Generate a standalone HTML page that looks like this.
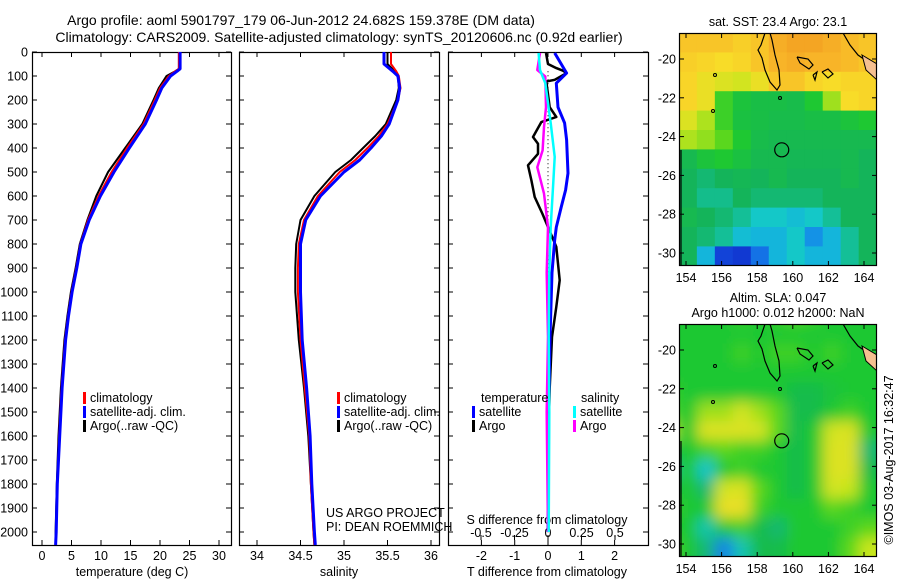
<!DOCTYPE html>
<html><head><meta charset="utf-8">
<style>
html,body{margin:0;padding:0;background:#fff;}
svg{display:block;font-family:"Liberation Sans",Arial,sans-serif;}
</style></head>
<body>
<svg id="fig" width="900" height="580" viewBox="0 0 900 580" xmlns="http://www.w3.org/2000/svg">
<defs>
<clipPath id="clipSST"><rect x="679" y="33" width="198" height="233"/></clipPath>
<clipPath id="clipSLA"><rect x="679" y="324" width="198" height="232"/></clipPath>
<filter id="blur" x="-10%" y="-10%" width="120%" height="120%"><feGaussianBlur stdDeviation="7"/></filter>
</defs>
<text x="301" y="25" font-size="14" text-anchor="middle">Argo profile: aoml 5901797_179 06-Jun-2012 24.682S 159.378E (DM data)</text>
<text x="339" y="42" font-size="14" text-anchor="middle">Climatology: CARS2009. Satellite-adjusted climatology: synTS_20120606.nc (0.92d earlier)</text>
<g id="g"></g>
</svg>
<script>
// ---- Temperature profile data ----
const tDepth = [0,70,80,100,150,200,300,400,500,600,700,800,900,1000,1100,1200,1400,1600,1800,2000,2054];
const tClim  = [23.2,23.2,22.6,21.5,20,19.1,17.2,14.4,11.8,9.6,7.8,6.5,5.8,5.0,4.4,3.9,3.3,2.9,2.6,2.4,2.3];
const tSat   = [23.4,23.4,22.9,21.8,20.3,19.4,17.5,14.8,12.2,9.9,8.0,6.6,5.9,5.1,4.5,4.0,3.4,3.0,2.6,2.4,2.3];
const tArgo  = [23.2,23.2,22.6,21.1,19.8,18.9,17.0,14.1,11.2,9.2,7.7,6.4,5.7,4.9,4.3,3.8,3.2,2.8,2.5,2.3,2.3];
// ---- Salinity profile data ----
const sDepth = [0,50,80,100,150,200,300,350,400,450,500,600,700,800,900,1000,1200,1400,1600,1800,2000,2054];
const sClim  = [35.54,35.54,35.6,35.63,35.65,35.62,35.5,35.4,35.27,35.13,34.95,34.7,34.54,34.48,34.47,34.47,34.5,34.55,34.6,34.62,34.65,34.66];
const sSat   = [35.46,35.46,35.56,35.62,35.64,35.62,35.52,35.43,35.31,35.18,35.0,34.73,34.56,34.5,34.5,34.5,34.52,34.57,34.61,34.63,34.66,34.67];
const sArgo  = [35.5,35.5,35.58,35.62,35.63,35.6,35.48,35.36,35.22,35.08,34.9,34.66,34.5,34.45,34.44,34.44,34.48,34.54,34.59,34.62,34.65,34.66];
// ---- Difference data ----
const dTSatDepth = [4,88,130,230,296,366,505,575,645,730,783,920,1187,1500,2000];
const dTSat      = [0.2,0.56,0.25,0.3,0.5,0.56,0.6,0.53,0.4,0.25,0.2,0.12,0.06,0.02,0.0];
const dTArgoDepth = [4,50,67,78,88,116,123,230,271,292,354,382,424,472,535,604,673,729,812,951,1062,1187,1400,1700,2000];
const dTArgo      = [-0.06,0,0.25,0.45,0.56,0.2,-0.05,0.05,0.25,-0.2,-0.45,-0.3,-0.3,-0.6,-0.5,-0.4,-0.17,0,0.25,0.35,0.25,0.12,0.05,0.0,0.0];
const dSArgoDepth = [4,75,102,230,313,410,480,590,729,920,1187,1500,2000];
const dSArgo      = [-0.06,-0.08,-0.02,-0.015,-0.03,-0.04,-0.08,-0.03,0,-0.01,0,-0.01,0];
const dSSatDepth = [4,75,130,296,437,535,729,920,1187,1500,2000];
const dSSat      = [-0.07,-0.06,-0.02,0.02,0.05,0.04,0.02,0.01,0.005,0.01,0.005];
// ---- Tick labels ----
const depthTicks = [0,100,200,300,400,500,600,700,800,900,1000,1100,1200,1300,1400,1500,1600,1700,1800,1900,2000];
const tempTicks = [0,5,10,15,20,25,30];
const salTicks = [34,34.5,35,35.5,36];
const salTickLabels = ["34","34.5","35","35.5","36"];
const dTTicks = [-2,-1,0,1,2];
const dSTicks = [-0.5,-0.25,0,0.25,0.5];
const dSTickLabels = ["-0.5","-0.25","0","0.25","0.5"];
const latTicks = [-20,-22,-24,-26,-28,-30];
const lonTicks = [154,156,158,160,162,164];
// ---- Map grids (colour index 0..1), rows lat -19..-30, cols lon 154..164 ----
const sstGrid = [
[0.85,0.85,0.85,0.82,0.85,0.92,0.95,0.95,0.92,0.88,0.85],
[0.82,0.8,0.78,0.8,0.85,0.9,0.92,0.9,0.9,0.88,0.85],
[0.8,0.75,0.72,0.7,0.75,0.85,0.85,0.8,0.78,0.8,0.8],
[0.8,0.75,0.55,0.48,0.46,0.46,0.45,0.5,0.65,0.78,0.8],
[0.72,0.66,0.55,0.47,0.46,0.45,0.45,0.46,0.46,0.48,0.5],
[0.66,0.64,0.6,0.5,0.45,0.44,0.44,0.44,0.44,0.44,0.44],
[0.44,0.48,0.5,0.47,0.44,0.44,0.43,0.43,0.43,0.44,0.42],
[0.42,0.4,0.42,0.43,0.42,0.44,0.42,0.42,0.42,0.44,0.42],
[0.42,0.38,0.38,0.42,0.4,0.4,0.4,0.4,0.42,0.42,0.42],
[0.44,0.42,0.4,0.37,0.33,0.33,0.3,0.33,0.37,0.42,0.42],
[0.42,0.4,0.37,0.3,0.28,0.28,0.33,0.22,0.28,0.37,0.42],
[0.42,0.28,0.08,0.05,0.18,0.28,0.33,0.28,0.28,0.37,0.42]];
const slaGrid = [
[0.5,0.5,0.5,0.55,0.5,0.55,0.6,0.55,0.5,0.5,0.5],
[0.5,0.5,0.5,0.55,0.5,0.55,0.55,0.5,0.55,0.5,0.5],
[0.5,0.5,0.5,0.5,0.5,0.5,0.5,0.5,0.5,0.5,0.5],
[0.55,0.5,0.5,0.5,0.5,0.5,0.45,0.45,0.48,0.5,0.5],
[0.6,0.65,0.65,0.7,0.65,0.6,0.45,0.45,0.5,0.55,0.5],
[0.68,0.72,0.72,0.72,0.7,0.6,0.45,0.5,0.7,0.72,0.5],
[0.45,0.55,0.6,0.55,0.55,0.5,0.45,0.5,0.72,0.72,0.4],
[0.35,0.32,0.5,0.55,0.5,0.5,0.45,0.5,0.72,0.72,0.45],
[0.45,0.4,0.7,0.72,0.6,0.5,0.45,0.5,0.7,0.68,0.5],
[0.55,0.5,0.75,0.75,0.55,0.5,0.5,0.5,0.6,0.55,0.5],
[0.5,0.35,0.5,0.55,0.45,0.4,0.5,0.5,0.5,0.55,0.6],
[0.6,0.4,0.2,0.35,0.45,0.45,0.5,0.5,0.5,0.6,0.68]];

const NS="http://www.w3.org/2000/svg";
const G=document.getElementById('g');
function mk(tag,attrs,parent){const e=document.createElementNS(NS,tag);for(const k in attrs)e.setAttribute(k,attrs[k]);(parent||G).appendChild(e);return e;}
function txt(x,y,s,size,anchor,parent){const e=mk('text',{x:x,y:y,'font-size':size,'text-anchor':anchor||'start'},parent);e.textContent=s;return e;}

const TOP=52, BOT=545;
const yD=d=>TOP+d*0.24;
const xT=t=>42+t*5.9;
const xS=s=>257+(s-34)*87;
const xDT=v=>548+v*33.3;
const xDS=v=>548+v*134;

function frame(x0,x1,name){
  const r=mk('rect',{x:x0+0.5,y:TOP+0.5,width:x1-x0,height:BOT-TOP,fill:'none',stroke:'#000','stroke-width':1.2});
  
  
  depthTicks.forEach(d=>{
    mk('line',{x1:x0,x2:x0+5,y1:yD(d),y2:yD(d),stroke:'#000'});
    mk('line',{x1:x1-5,x2:x1,y1:yD(d),y2:yD(d),stroke:'#000'});
  });
}
frame(32,231,'temperature-panel');
frame(239,439,'salinity-panel');
frame(448,648,'difference-panel');

depthTicks.forEach(d=>{
  const t=txt(28,yD(d)+4.5,String(d),12.5,'end');
  
  
});

function xticks(vals,labels,fx,labelY){
  vals.forEach((v,i)=>{
    const x=fx(v);
    mk('line',{x1:x,x2:x,y1:TOP,y2:TOP+5,stroke:'#000'});
    mk('line',{x1:x,x2:x,y1:BOT-5,y2:BOT,stroke:'#000'});
    const t=txt(x,labelY,labels[i],12.5,'middle');
    
    
  });
}
xticks(tempTicks,tempTicks.map(String),xT,560);
xticks(salTicks,salTickLabels,xS,560);
xticks(dTTicks,dTTicks.map(String),xDT,560);
dSTicks.forEach((v,i)=>{
  const x=xDS(v);
  mk('line',{x1:x,x2:x,y1:BOT-10,y2:BOT-5,stroke:'#000'});
  const t=txt(x,537,dSTickLabels[i],12.5,'middle');
  
  
});
let a;
a=txt(132,576,'temperature (deg C)',12.5,'middle');
a=txt(339,576,'salinity',12.5,'middle');
a=txt(547,576,'T difference from climatology',12.5,'middle');
a=txt(547,524,'S difference from climatology',12.5,'middle');

function series(depths,vals,fx,color,w,name){
  const pts=depths.map((d,i)=>fx(vals[i]).toFixed(1)+','+yD(d).toFixed(1)).join(' ');
  const p=mk('polyline',{points:pts,fill:'none',stroke:color,'stroke-width':w,'stroke-linejoin':'round'});
  
  
}
series(tDepth,tArgo,xT,'#000',2,'temp-argo-line');
series(tDepth,tClim,xT,'#f00',2,'temp-climatology-line');
series(tDepth,tSat,xT,'#00f',3,'temp-satellite-line');
series(sDepth,sArgo,xS,'#000',2,'sal-argo-line');
series(sDepth,sClim,xS,'#f00',2,'sal-climatology-line');
series(sDepth,sSat,xS,'#00f',3,'sal-satellite-line');
mk('line',{x1:548,x2:548,y1:yD(80),y2:BOT,stroke:'#000','stroke-dasharray':'1,3'});
series(dTArgoDepth,dTArgo,xDT,'#000',2.5,'tdiff-argo-line');
series(dTSatDepth,dTSat,xDT,'#00f',3,'tdiff-satellite-line');
series(dSArgoDepth,dSArgo,xDS,'#f0f',2.5,'sdiff-argo-line');
series(dSSatDepth,dSSat,xDS,'#0ff',2.5,'sdiff-satellite-line');

function legItem(x,y,color,label,name){
  const g=mk('g',{});
  
  
  mk('rect',{x:x,y:y-10,width:3,height:12,fill:color},g);
  txt(x+7,y,label,12.5,'start',g);
}
legItem(83,402,'#f00','climatology','legend-climatology');
legItem(83,416,'#00f','satellite-adj. clim.','legend-satellite');
legItem(83,430,'#000','Argo(..raw -QC)','legend-argo');
legItem(337,402,'#f00','climatology','legend-climatology-2');
legItem(337,416,'#00f','satellite-adj. clim.','legend-satellite-2');
legItem(337,430,'#000','Argo(..raw -QC)','legend-argo-2');
a=txt(481,402,'temperature',12.5);
legItem(472,416,'#00f','satellite','legend-tdiff-satellite');
legItem(472,430,'#000','Argo','legend-tdiff-argo');
a=txt(581,402,'salinity',12.5);
legItem(573,416,'#0ff','satellite','legend-sdiff-satellite');
legItem(573,430,'#f0f','Argo','legend-sdiff-argo');
a=txt(326,517,'US ARGO PROJECT',12.5);
a=txt(326,531,'PI: DEAN ROEMMICH',12.5);

function cmap(v){
  const stops=[[0,[16,40,200]],[0.15,[20,90,230]],[0.25,[20,170,230]],[0.33,[20,200,200]],[0.42,[20,180,90]],[0.5,[30,200,50]],[0.6,[90,215,30]],[0.68,[200,230,30]],[0.78,[248,220,40]],[0.9,[248,180,40]],[1,[240,150,30]]];
  if(v<=0) return 'rgb(16,40,200)';
  for(let i=1;i<stops.length;i++){if(v<=stops[i][0]){const a=stops[i-1],b=stops[i],f=(v-a[0])/(b[0]-a[0]);
    return 'rgb('+a[1].map((c,k)=>Math.round(c+(b[1][k]-c)*f)).join(',')+')';}}
  return 'rgb(240,150,30)';
}
function drawMap(top,grid,blur,name,titleLines){
  const yL=lat=>top+26+(-20-lat)*19.4;
  const xL=lon=>686+(lon-154)*17.8;
  const g=mk('g',{'clip-path':'url(#'+(top<100?'clipSST':'clipSLA')+')'});
  
  
  const inner=mk('g',blur?{filter:'url(#blur)'}:{},g);
  if(blur) mk('rect',{x:660,y:top-20,width:240,height:272,fill:cmap(0.5)},inner);
  grid.forEach((row,r)=>row.forEach((v,c)=>{
    const x0=xL(153.6+c*1.01), y0=yL(-18.66-r*1.0);
    const cell=mk('rect',{x:(blur&&c==0)?x0-20:x0,y:(blur&&r==0)?y0-20:y0,width:(blur&&c==10)?40:18.5,height:(blur&&r==11)?40:19.9,fill:cmap(v)},inner);
    
    
  }));
  const lines=[
    [[765,33],[761,45],[758,50],[762,58],[765,70],[770,82],[777,90],[780,85],[779,70],[775,55],[772,40],[770,33]],
    [[797,57],[808,59],[813,65],[809,69],[800,63],[797,57]],
    [[813,75],[817,72],[815,80],[813,75]],
    [[822,72],[828,69],[833,74],[828,78],[822,72]],
    [[843,33],[850,45],[858,55],[868,62]],
    [[681,150],[681,266]]
  ];
  lines.forEach(l=>{
    const pts=l.map(p=>p[0]+','+(p[1]-33+top)).join(' ');
    mk('polyline',{points:pts,fill:'none',stroke:'#000','stroke-width':1.2},g);
  });
  mk('polygon',{points:[[862,55],[877,64],[877,80],[866,70]].map(p=>p[0]+','+(p[1]-33+top)).join(' '),fill:'#f5c090',stroke:'#000','stroke-width':1},g);
  [[715,75],[713,111],[780,98],[779,282]].forEach(p=>mk('circle',{cx:p[0],cy:p[1]-33+top,r:1.5,fill:'none',stroke:'#000'},g));
  const c=mk('circle',{cx:xL(159.378),cy:yL(-24.682),r:7,fill:'none',stroke:'#000','stroke-width':1.2});
  
  
  mk('rect',{x:679.5,y:top+0.5,width:197,height:232,fill:'none',stroke:'#000','stroke-width':1.2});
  latTicks.forEach(l=>{const y=yL(l);mk('line',{x1:679,x2:684,y1:y,y2:y,stroke:'#000'});mk('line',{x1:872,x2:877,y1:y,y2:y,stroke:'#000'});
    const t=txt(676,y+4.5,String(l),12.5,'end');});
  lonTicks.forEach(l=>{const x=xL(l);mk('line',{x1:x,x2:x,y1:top+228,y2:top+233,stroke:'#000'});mk('line',{x1:x,x2:x,y1:top,y2:top+5,stroke:'#000'});
    const t=txt(x,top+249,String(l),12.5,'middle');});
  titleLines.forEach((s,i)=>{const t=txt(778,top-(titleLines.length-i-1)*15-7,s,12.5,'middle');});
}
drawMap(33,sstGrid,false,'sst-map',['sat. SST: 23.4  Argo: 23.1']);
drawMap(324,slaGrid,true,'sla-map',['Altim. SLA: 0.047','Argo h1000: 0.012 h2000: NaN']);
a=txt(0,0,'©IMOS 03-Aug-2017 16:32:47',12.5,'middle');
a.setAttribute('transform','translate(893,460) rotate(-90)');


</script>
</body></html>
